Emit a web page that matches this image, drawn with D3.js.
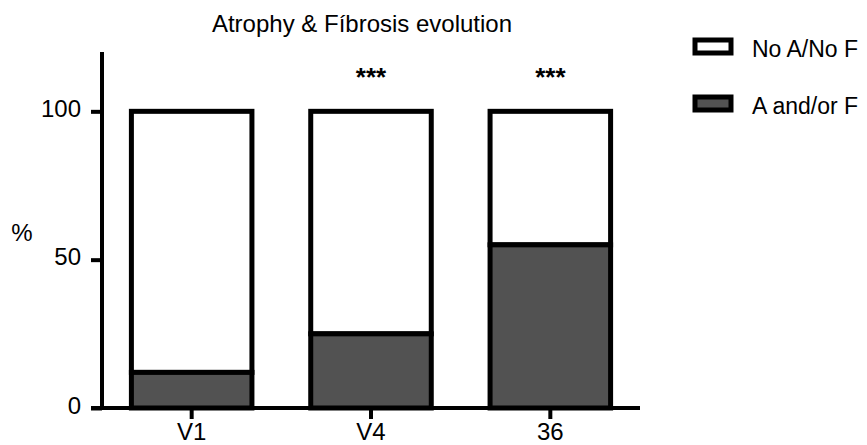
<!DOCTYPE html>
<html><head><meta charset="utf-8">
<script src="https://cdn.jsdelivr.net/npm/d3@7"></script>
<style>body{margin:0;background:#fff}text{font-family:"Liberation Sans",Arial,sans-serif;fill:#000}</style>
</head><body><svg id="c" width="867" height="445"></svg>
<script>
const categories = ["V1", "V4", "36"];
const affected = [12, 25, 55];          // A and/or F (%)
const unaffected = [88, 75, 45];        // No A/No F (%)
const significance = ["", "***", "***"];
const yTicks = [0, 50, 100];
const seriesNames = ["No A/No F", "A and/or F"];
const seriesColors = ["#ffffff", "#525252"];

const svg = d3.select("#c");
const x = d3.scaleBand().domain(categories).range([102, 640]).paddingInner(0.3).paddingOuter(0.15);
const y = d3.scaleLinear().domain([0, 120]).range([408, 52]);
const sw = 5;

categories.forEach((c, i) => {
  const x0 = x(c) + sw/2, w = x.bandwidth() - sw;
  svg.append("rect").attr("x", x0).attr("y", y(affected[i] + unaffected[i]))
    .attr("width", w).attr("height", y(affected[i]) - y(affected[i] + unaffected[i]))
    .attr("fill", seriesColors[0]).attr("stroke", "#000").attr("stroke-width", sw);
  svg.append("rect").attr("x", x0).attr("y", y(affected[i]))
    .attr("width", w).attr("height", y(0) - y(affected[i]))
    .attr("fill", seriesColors[1]).attr("stroke", "#000").attr("stroke-width", sw);
  if (significance[i]) {
    svg.append("text").attr("x", x(c) + x.bandwidth()/2).attr("y", 86)
      .attr("text-anchor", "middle").attr("font-size", 26).attr("font-weight", "bold").text(significance[i]);
  }
});

const yAx = svg.append("g").attr("transform", "translate(102,0)")
  .call(d3.axisLeft(y).tickValues(yTicks).tickSize(11).tickSizeOuter(0).tickPadding(10));
yAx.select(".domain").attr("stroke-width", 4).attr("d", `M0,${y(120)}V${y(0)+2}`);
yAx.selectAll(".tick line").attr("stroke-width", 4);
yAx.selectAll(".tick text").attr("font-size", 24).attr("dy", "0.22em").attr("font-family", "Liberation Sans, Arial, sans-serif").attr("fill", "#000");

const xAx = svg.append("g").attr("transform", `translate(0,${y(0)})`)
  .call(d3.axisBottom(x).tickSize(11).tickSizeOuter(0).tickPadding(4));
xAx.select(".domain").attr("stroke-width", 4).attr("d", "M91,0H640");
xAx.selectAll(".tick line").attr("stroke-width", 4);
xAx.selectAll(".tick text").attr("font-size", 24).attr("font-family", "Liberation Sans, Arial, sans-serif").attr("fill", "#000");

svg.append("text").attr("x", 22).attr("y", 241).attr("text-anchor", "middle").attr("font-size", 24).text("%");
svg.append("text").attr("x", 362).attr("y", 32).attr("text-anchor", "middle").attr("font-size", 24).text("Atrophy & Fíbrosis evolution");

seriesNames.forEach((n, i) => {
  const ly = 40 + i * 57;
  svg.append("rect").attr("x", 695).attr("y", ly).attr("width", 36).attr("height", 13)
    .attr("fill", seriesColors[i]).attr("stroke", "#000").attr("stroke-width", 5);
  svg.append("text").attr("x", 752).attr("y", ly + 17).attr("font-size", 23).text(n);
});
</script></body></html>
